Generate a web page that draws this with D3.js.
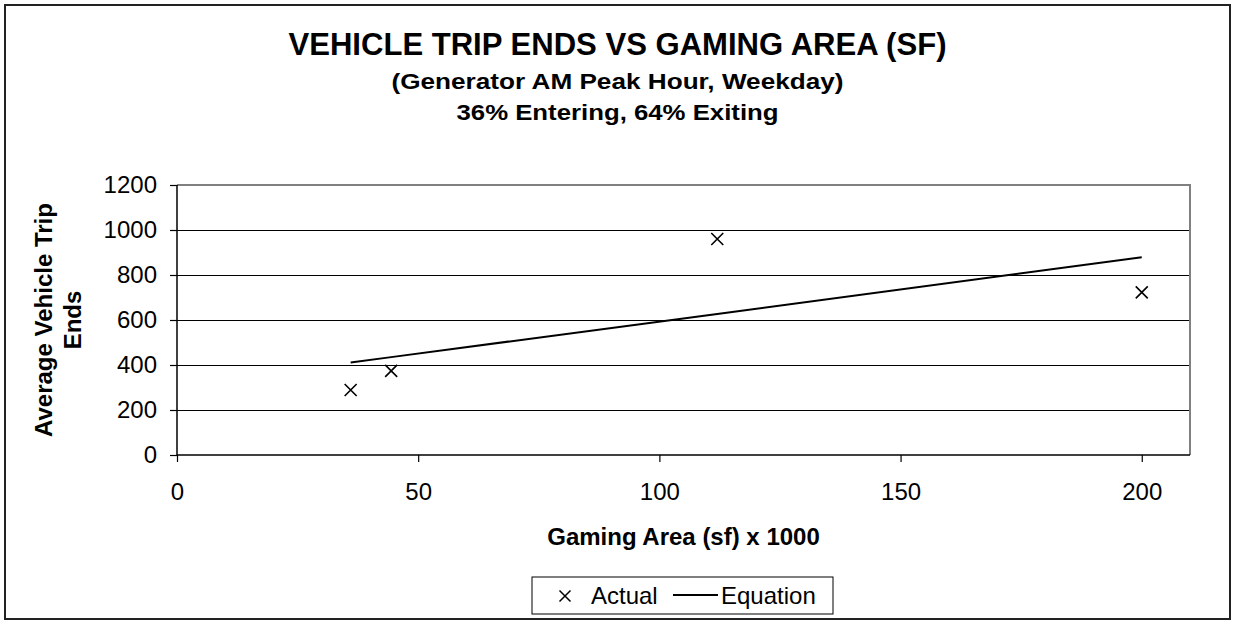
<!DOCTYPE html>
<html>
<head>
<meta charset="utf-8">
<script src="https://cdn.jsdelivr.net/npm/d3@7"></script>
<style>
  html, body { margin: 0; padding: 0; background: #fff; }
  svg { display: block; font-family: "Liberation Sans", Arial, sans-serif; }
</style>
</head>
<body>
<svg id="chart" width="1233" height="622"></svg>
<script>
// ---- data ----
const titleLines = ["VEHICLE TRIP ENDS VS GAMING AREA (SF)", "(Generator AM Peak Hour, Weekday)", "36% Entering, 64% Exiting"];
const gamingArea = [36, 44.4, 112, 200];          // x (sf x 1000)
const actualTrips = [289, 374, 960, 723];          // Actual
const equationTrips = [411, 435, 627, 879];        // Equation (fitted line)
const xTicks = [0, 50, 100, 150, 200];
const yTicks = [0, 200, 400, 600, 800, 1000, 1200];
const xTitle = "Gaming Area (sf) x 1000";
const yTitleLines = ["Average Vehicle Trip", "Ends"];
const legendLabels = ["Actual", "Equation"];

// ---- layout ----
const svg = d3.select("#chart");
const W = 1233, H = 622;
const plot = { left: 177, right: 1190, top: 185, bottom: 455 };

svg.append("rect").attr("x", 0).attr("y", 0).attr("width", W).attr("height", H).attr("fill", "#fff");
svg.append("rect").attr("x", 5).attr("y", 5).attr("width", 1225).attr("height", 614)
  .attr("fill", "none").attr("stroke", "#222").attr("stroke-width", 2);

const x = d3.scaleLinear().domain([0, 210]).range([plot.left, plot.right]);
const y = d3.scaleLinear().domain([0, 1200]).range([plot.bottom, plot.top]);

// titles
const tSpecs = [
  { size: 31, y: 55, len: 658 },
  { size: 22, y: 89, len: 452 },
  { size: 22, y: 120, len: 322 }
];
titleLines.forEach((t, i) => {
  svg.append("text")
    .attr("x", 617.5).attr("y", tSpecs[i].y)
    .attr("text-anchor", "middle")
    .attr("font-weight", "bold")
    .attr("font-size", tSpecs[i].size)
    .attr("textLength", tSpecs[i].len)
    .attr("lengthAdjust", "spacingAndGlyphs")
    .attr("fill", "#000")
    .text(t);
});

// gridlines
svg.append("g").selectAll("line").data(yTicks.filter(v => v > 0 && v < 1200)).join("line")
  .attr("x1", plot.left).attr("x2", plot.right)
  .attr("y1", d => y(d)).attr("y2", d => y(d))
  .attr("stroke", "#000").attr("stroke-width", 1).attr("shape-rendering", "crispEdges");

// plot border (top/right gray)
svg.append("path")
  .attr("d", `M${plot.left},${plot.top}H${plot.right}V${plot.bottom}`)
  .attr("fill", "none").attr("stroke", "#808080").attr("stroke-width", 2);

// axes
const yAxis = d3.axisLeft(y).tickValues(yTicks).tickSize(7).tickPadding(13).tickFormat(d3.format("d"));
const gy = svg.append("g").attr("transform", `translate(${plot.left},0)`).call(yAxis);
const xAxis = d3.axisBottom(x).tickValues(xTicks).tickSize(7).tickPadding(21).tickFormat(d3.format("d"));
const gx = svg.append("g").attr("transform", `translate(0,${plot.bottom})`).call(xAxis);
[gx, gy].forEach(g => {
  g.select(".domain").attr("stroke", "#000").attr("stroke-width", 1.5);
  g.selectAll(".tick line").attr("stroke", "#000").attr("stroke-width", 1.2);
  g.selectAll(".tick text").attr("font-size", 24).attr("fill", "#000")
    .attr("font-family", "'Liberation Sans', Arial, sans-serif");
});
gy.select(".domain").attr("d", `M0,${plot.top}V${plot.bottom}`);
gx.select(".domain").attr("d", `M${plot.left},0H${plot.right}`);

// axis titles
svg.append("text").attr("x", 683.5).attr("y", 545).attr("text-anchor", "middle")
  .attr("font-weight", "bold").attr("font-size", 24).attr("fill", "#000").text(xTitle);
const yt = svg.append("text").attr("transform", `translate(0,${(plot.top + plot.bottom) / 2}) rotate(-90)`)
  .attr("text-anchor", "middle").attr("font-weight", "bold").attr("font-size", 24).attr("fill", "#000");
yTitleLines.forEach((t, i) => {
  yt.append("tspan").attr("x", 0).attr("y", i === 0 ? 52 : 81).text(t);
});

// equation line
const line = d3.line().x((d, i) => x(gamingArea[i])).y(d => y(d));
svg.append("path").datum(equationTrips).attr("d", line)
  .attr("fill", "none").attr("stroke", "#000").attr("stroke-width", 2);

// actual markers (x)
const m = 6;
svg.append("g").selectAll("path").data(actualTrips).join("path")
  .attr("d", (d, i) => {
    const cx = x(gamingArea[i]), cy = y(d);
    return `M${cx - m},${cy - m}L${cx + m},${cy + m}M${cx - m},${cy + m}L${cx + m},${cy - m}`;
  })
  .attr("stroke", "#000").attr("stroke-width", 1.6).attr("fill", "none");

// legend
const lg = svg.append("g");
lg.append("rect").attr("x", 532).attr("y", 577).attr("width", 301).attr("height", 37)
  .attr("fill", "#fff").attr("stroke", "#000").attr("stroke-width", 1);
const lx = 565, ly = 596, lm = 5.5;
lg.append("path").attr("d", `M${lx - lm},${ly - lm}L${lx + lm},${ly + lm}M${lx - lm},${ly + lm}L${lx + lm},${ly - lm}`)
  .attr("stroke", "#000").attr("stroke-width", 1.5);
lg.append("text").attr("x", 591).attr("y", 604).attr("font-size", 24).attr("fill", "#000").text(legendLabels[0]);
lg.append("line").attr("x1", 673).attr("x2", 718).attr("y1", 595).attr("y2", 595)
  .attr("stroke", "#000").attr("stroke-width", 2);
lg.append("text").attr("x", 721).attr("y", 604).attr("font-size", 24).attr("fill", "#000").text(legendLabels[1]);
</script>
</body>
</html>
